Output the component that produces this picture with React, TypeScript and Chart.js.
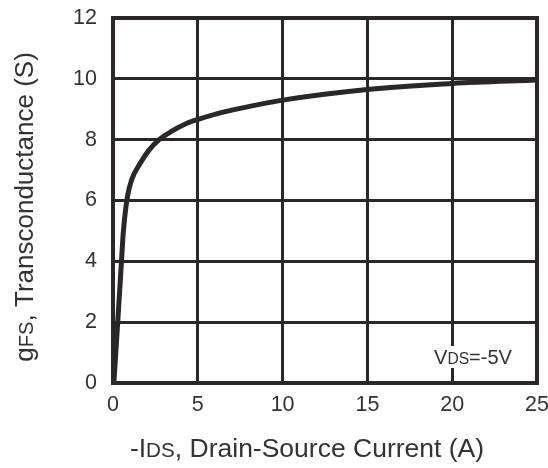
import React, { useEffect, useRef } from "react";
import { Chart, registerables } from "chart.js";

Chart.register(...registerables);

// -IDS, drain-source current (A)
const currentA = [0.05, 0.3, 0.5, 0.6, 0.72, 0.86, 1.11, 1.58, 2.1, 2.72, 3.44, 4.36, 5.2, 6.1, 7.5, 10, 15, 20, 25];
// gFS, transconductance (S)
const gfsS = [0, 2.2, 4.0, 4.9, 5.6, 6.15, 6.7, 7.2, 7.64, 8.0, 8.27, 8.54, 8.7, 8.85, 9.03, 9.3, 9.65, 9.85, 9.96];
const xTicks = [0, 5, 10, 15, 20, 25];
const yTicks = [0, 2, 4, 6, 8, 10, 12];

const INK = "#2b2627";
const TEXT = "#333333";
const FONT = "'Liberation Sans', Arial, sans-serif";

type Part = { t: string; small?: boolean };

function drawRich(ctx: CanvasRenderingContext2D, parts: Part[], size: number, scale: number, cx: number, cy: number, rot: number, bg?: boolean) {
  ctx.save();
  ctx.translate(cx, cy);
  ctx.rotate(rot);
  ctx.textBaseline = "alphabetic";
  ctx.textAlign = "left";
  let total = 0;
  const widths = parts.map((p) => {
    ctx.font = `${p.small ? size * scale : size}px ${FONT}`;
    const w = ctx.measureText(p.t).width;
    total += w;
    return w;
  });
  let x = -total / 2;
  const base = size * 0.36;
  if (bg) {
    ctx.fillStyle = "#ffffff";
    ctx.fillRect(x - 3, -size * 0.55, total + 6, size * 1.1);
  }
  ctx.fillStyle = TEXT;
  parts.forEach((p, i) => {
    ctx.font = `${p.small ? size * scale : size}px ${FONT}`;
    ctx.fillText(p.t, x, base);
    x += widths[i];
  });
  ctx.restore();
}

const decorPlugin = {
  id: "decor",
  afterDraw(chart: any) {
    const { ctx, chartArea } = chart;
    const { left, right, top, bottom } = chartArea;
    ctx.save();
    ctx.strokeStyle = INK;
    ctx.lineWidth = 4;
    ctx.strokeRect(left, top, right - left, bottom - top);
    ctx.restore();
    drawRich(ctx, [{ t: "V" }, { t: "DS", small: true }, { t: "=-5V" }], 20, 0.78, 473, 357, 0, true);
    drawRich(ctx, [{ t: "-I" }, { t: "DS", small: true }, { t: ", Drain-Source Current (A)" }], 26.5, 0.78, 307, 447, 0);
    drawRich(ctx, [{ t: "g" }, { t: "FS", small: true }, { t: ", Transconductance (S)" }], 26, 0.78, 24, 207, -Math.PI / 2);
  },
};

function zeroPad(s: any) {
  s.paddingTop = 0;
  s.paddingBottom = 0;
  s.paddingLeft = 0;
  s.paddingRight = 0;
}

export default function App() {
  const ref = useRef<HTMLCanvasElement | null>(null);
  useEffect(() => {
    if (!ref.current) return;
    const chart = new Chart(ref.current, {
      type: "line",
      data: {
        datasets: [
          {
            data: currentA.map((x, i) => ({ x, y: gfsS[i] })),
            borderColor: INK,
            borderWidth: 5,
            pointRadius: 0,
            cubicInterpolationMode: "monotone",
            fill: false,
          },
        ],
      },
      options: {
        animation: false,
        responsive: true,
        maintainAspectRatio: false,
        layout: { padding: { left: 0, top: 18, right: 11, bottom: 0 } },
        plugins: { legend: { display: false }, tooltip: { enabled: false } },
        scales: {
          x: {
            type: "linear",
            min: xTicks[0],
            max: xTicks[xTicks.length - 1],
            afterFit: (s: any) => { s.height = 85; zeroPad(s); },
            afterBuildTicks: (s: any) => { s.ticks = xTicks.map((v) => ({ value: v })); },
            ticks: { color: TEXT, font: { family: FONT, size: 21.5 }, padding: 9, maxRotation: 0 },
            grid: { color: INK, lineWidth: 3, drawTicks: false },
            border: { display: true, color: INK, width: 4 },
          },
          y: {
            type: "linear",
            min: yTicks[0],
            max: yTicks[yTicks.length - 1],
            afterFit: (s: any) => { s.width = 113; zeroPad(s); },
            afterBuildTicks: (s: any) => { s.ticks = yTicks.map((v) => ({ value: v })); },
            ticks: { color: TEXT, font: { family: FONT, size: 21.5 }, padding: 16 },
            grid: { color: INK, lineWidth: 3, drawTicks: false },
            border: { display: true, color: INK, width: 4 },
          },
        },
      },
      plugins: [decorPlugin],
    });
    return () => chart.destroy();
  }, []);
  return (
    <div style={{ position: "fixed", left: 0, top: 0, width: 548, height: 468, background: "#fff" }}>
      <canvas ref={ref} />
    </div>
  );
}
